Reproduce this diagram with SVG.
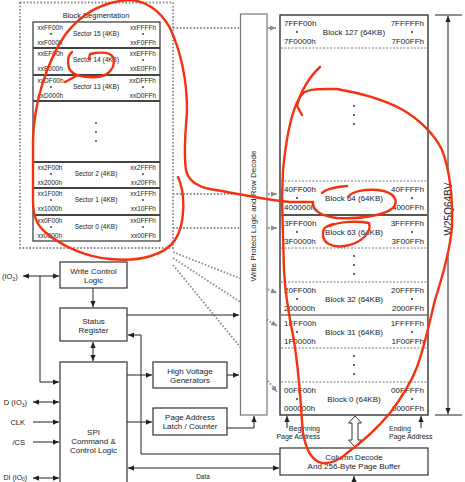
<svg xmlns="http://www.w3.org/2000/svg" width="465" height="482" viewBox="0 0 465 482">
<defs>
<style>
text{font-family:"Liberation Sans",Arial,sans-serif;fill:#222}
.s{font-size:6.5px}
.b{font-size:8px}
.l{font-size:7.5px}
.m{text-anchor:middle}
.e{text-anchor:end}
.box{fill:#fff;stroke:#333;stroke-width:1.2}
.ln{fill:none;stroke:#222;stroke-width:1}
.dt{fill:none;stroke:#8c8c8c;stroke-width:1.8;stroke-dasharray:1.6 1.8}
.dash{stroke:#555;stroke-width:0.8;stroke-dasharray:2 1.5}
.dv{stroke:#444;stroke-width:2}
.red{fill:none;stroke:#f5320f;stroke-width:2.4;stroke-linecap:round;stroke-linejoin:round}
</style>
<marker id="ah" viewBox="0 0 8 8" refX="8" refY="4" markerWidth="6" markerHeight="6" markerUnits="userSpaceOnUse" orient="auto-start-reverse"><path d="M0,0.5 L8,4 L0,7.5z" fill="#222"/></marker>
<marker id="ag" viewBox="0 0 8 8" refX="8" refY="4" markerWidth="6" markerHeight="6" markerUnits="userSpaceOnUse" orient="auto"><path d="M0,0.5 L8,4 L0,7.5z" fill="#8c8c8c"/></marker>
</defs>
<rect width="465" height="482" fill="#fff"/>

<g id="connectors">
<g id="dotted">
<path class="dt" d="M173,28 H276" marker-end="url(#ag)"/>
<path class="dt" d="M173,194 H277" marker-end="url(#ag)"/>
<path class="dt" d="M173,228 H277" marker-end="url(#ag)"/>
<path class="dt" d="M173,252 L277,293" marker-end="url(#ag)"/>
<path class="dt" d="M173,258 L277,326" marker-end="url(#ag)"/>
<path class="dt" d="M173,265 L277,392" marker-end="url(#ag)"/>
</g>
<g id="solid">
<path class="ln" d="M23,276 H59" marker-start="url(#ah)" marker-end="url(#ah)"/>
<path class="ln" d="M40,276 V382 H59" marker-end="url(#ah)"/>
<path class="ln" d="M33,402 H59" marker-start="url(#ah)" marker-end="url(#ah)"/>
<path class="ln" d="M33,422 H59" marker-end="url(#ah)"/>
<path class="ln" d="M33,442 H59" marker-end="url(#ah)"/>
<path class="ln" d="M33,478 H59" marker-start="url(#ah)" marker-end="url(#ah)"/>
<path class="ln" d="M93,288 V307" marker-end="url(#ah)"/>
<path class="ln" d="M93,342 V361" marker-start="url(#ah)" marker-end="url(#ah)"/>
<path class="ln" d="M127,315 H239" marker-end="url(#ah)"/>
<path class="ln" d="M280,454 H141 V335 H128" marker-end="url(#ah)"/>
<path class="ln" d="M127,375 H152" marker-end="url(#ah)"/>
<path class="ln" d="M127,422 H152" marker-end="url(#ah)"/>
<path class="ln" d="M227,375 H239" marker-end="url(#ah)"/>
<path class="ln" d="M227,428 H254 V416" marker-end="url(#ah)"/>
<path class="ln" d="M128,468 H279" marker-start="url(#ah)" marker-end="url(#ah)"/>
<path class="ln" d="M354,482 V476" marker-end="url(#ah)"/>
<path class="ln" d="M287,428 V416" marker-end="url(#ah)"/>
<path class="ln" d="M421,428 V416" marker-end="url(#ah)"/>
<path class="ln" d="M435,15 H462 M435,415 H462"/>
<path class="ln" d="M448,170 V16" marker-end="url(#ah)"/>
<path class="ln" d="M448,255 V414" marker-end="url(#ah)"/>
<path d="M355,416 L361.5,423 H358 V440 H361.5 L355,447 L348.5,440 H352 V423 H348.5 Z" fill="#fff" stroke="#333" stroke-width="1"/>
</g>
</g>

<g id="block-segmentation">
<rect x="20" y="2.5" width="153" height="245.5" fill="none" class="dt"/>
<text class="l m" x="96" y="17.5">Block Segmentation</text>
<rect x="33" y="22" width="127" height="219" fill="#fff" stroke="#333" stroke-width="1.2"/>
<path class="dv" d="M33,48 H160 M33,75 H160 M33,101 H160 M33,162 H160 M33,188 H160 M33,215 H160"/>
<g fill="#333"><circle cx="96" cy="123" r="0.9"/><circle cx="96" cy="132" r="0.9"/><circle cx="96" cy="141" r="0.9"/></g>
</g>
<g id="sector-15" class="s">
<text x="37.5" y="29.5">xxFF00h</text><text x="37.5" y="45.3">xxF000h</text>
<text class="e" x="156" y="29.5">xxFFFFh</text><text class="e" x="156" y="45.3">xxF0FFh</text>
<text class="m" x="96" y="36.3">Sector 15 (4KB)</text>
<circle cx="51" cy="34" r="0.9" fill="#333"/><circle cx="143" cy="34" r="0.9" fill="#333"/>
</g>
<g id="sector-14" class="s">
<text x="37.5" y="55.5">xxEF00h</text><text x="37.5" y="71.3">xxE000h</text>
<text class="e" x="156" y="55.5">xxEFFFh</text><text class="e" x="156" y="71.3">xxE0FFh</text>
<text class="m" x="96" y="62.3">Sector 14 (4KB)</text>
<circle cx="51" cy="60" r="0.9" fill="#333"/><circle cx="143" cy="60" r="0.9" fill="#333"/>
</g>
<g id="sector-13" class="s">
<text x="37.5" y="82.5">xxDF00h</text><text x="37.5" y="98.3">xxD000h</text>
<text class="e" x="156" y="82.5">xxDFFFh</text><text class="e" x="156" y="98.3">xxD0FFh</text>
<text class="m" x="96" y="89.3">Sector 13 (4KB)</text>
<circle cx="51" cy="87" r="0.9" fill="#333"/><circle cx="143" cy="87" r="0.9" fill="#333"/>
</g>
<g id="sector-2" class="s">
<text x="37.5" y="169.5">xx2F00h</text><text x="37.5" y="185.3">xx2000h</text>
<text class="e" x="156" y="169.5">xx2FFFh</text><text class="e" x="156" y="185.3">xx20FFh</text>
<text class="m" x="96" y="176.3">Sector 2 (4KB)</text>
<circle cx="51" cy="174" r="0.9" fill="#333"/><circle cx="143" cy="174" r="0.9" fill="#333"/>
</g>
<g id="sector-1" class="s">
<text x="37.5" y="195.5">xx1F00h</text><text x="37.5" y="211.3">xx1000h</text>
<text class="e" x="156" y="195.5">xx1FFFh</text><text class="e" x="156" y="211.3">xx10FFh</text>
<text class="m" x="96" y="202.3">Sector 1 (4KB)</text>
<circle cx="51" cy="200" r="0.9" fill="#333"/><circle cx="143" cy="200" r="0.9" fill="#333"/>
</g>
<g id="sector-0" class="s">
<text x="37.5" y="222.5">xx0F00h</text><text x="37.5" y="238.3">xx0000h</text>
<text class="e" x="156" y="222.5">xx0FFFh</text><text class="e" x="156" y="238.3">xx00FFh</text>
<text class="m" x="96" y="229.3">Sector 0 (4KB)</text>
<circle cx="51" cy="227" r="0.9" fill="#333"/><circle cx="143" cy="227" r="0.9" fill="#333"/>
</g>

<g id="write-protect">
<rect x="240.5" y="14" width="26.5" height="401" fill="#fff" stroke="#777" stroke-width="1.2"/>
<text class="b m" transform="translate(256,216) rotate(-90)">Write Protect Logic and Row Decode</text>
</g>

<g id="memory-array">
<rect x="280" y="15" width="148" height="400" fill="#fff" stroke="#333" stroke-width="1.4"/>
<path class="dash" d="M281,48 H427 M281,181 H427 M281,248 H427 M281,282 H427 M281,348 H427 M281,382 H427"/>
<path d="M281,215 H427" stroke="#555" stroke-width="2"/>
<path d="M281,315 H427" stroke="#333" stroke-width="1.2"/>
<g fill="#333"><circle cx="354" cy="106" r="1"/><circle cx="354" cy="115" r="1"/><circle cx="354" cy="124" r="1"/><circle cx="354" cy="256" r="1"/><circle cx="354" cy="265" r="1"/><circle cx="354" cy="274" r="1"/><circle cx="354" cy="356" r="1"/><circle cx="354" cy="365" r="1"/><circle cx="354" cy="374" r="1"/></g>
</g>
<g id="block-127" class="b">
<text x="284" y="26">7FFF00h</text><text x="284" y="44.4">7F0000h</text>
<text class="e" x="424" y="26">7FFFFFh</text><text class="e" x="424" y="44.4">7F00FFh</text>
<text class="m" x="354" y="34.9">Block 127 (64KB)</text>
<circle cx="297" cy="32" r="1" fill="#333"/><circle cx="412" cy="32" r="1" fill="#333"/>
</g>
<g id="block-64" class="b">
<text x="284" y="192">40FF00h</text><text x="284" y="210.4">400000h</text>
<text class="e" x="424" y="192">40FFFFh</text><text class="e" x="424" y="210.4">4000FFh</text>
<text class="m" x="354" y="200.9">Block 64 (64KB)</text>
<circle cx="297" cy="198" r="1" fill="#333"/><circle cx="412" cy="198" r="1" fill="#333"/>
</g>
<g id="block-63" class="b">
<text x="284" y="226">3FFF00h</text><text x="284" y="244.4">3F0000h</text>
<text class="e" x="424" y="226">3FFFFFh</text><text class="e" x="424" y="244.4">3F00FFh</text>
<text class="m" x="354" y="234.9">Block 63 (64KB)</text>
<circle cx="297" cy="232" r="1" fill="#333"/><circle cx="412" cy="232" r="1" fill="#333"/>
</g>
<g id="block-32" class="b">
<text x="284" y="293">20FF00h</text><text x="284" y="311.4">200000h</text>
<text class="e" x="424" y="293">20FFFFh</text><text class="e" x="424" y="311.4">2000FFh</text>
<text class="m" x="354" y="301.9">Block 32 (64KB)</text>
<circle cx="297" cy="299" r="1" fill="#333"/><circle cx="412" cy="299" r="1" fill="#333"/>
</g>
<g id="block-31" class="b">
<text x="284" y="326">1FFF00h</text><text x="284" y="344.4">1F0000h</text>
<text class="e" x="424" y="326">1FFFFFh</text><text class="e" x="424" y="344.4">1F00FFh</text>
<text class="m" x="354" y="334.9">Block 31 (64KB)</text>
<circle cx="297" cy="332" r="1" fill="#333"/><circle cx="412" cy="332" r="1" fill="#333"/>
</g>
<g id="block-0" class="b">
<text x="284" y="393">00FF00h</text><text x="284" y="411.4">000000h</text>
<text class="e" x="424" y="393">00FFFFh</text><text class="e" x="424" y="411.4">0000FFh</text>
<text class="m" x="354" y="401.9">Block 0 (64KB)</text>
<circle cx="297" cy="399" r="1" fill="#333"/><circle cx="412" cy="399" r="1" fill="#333"/>
</g>

<g id="chip-label"><text transform="translate(451.5,209) rotate(-90)" class="m" font-size="10">W25Q64BV</text></g>
<g id="page-address-labels" font-size="7">
<text class="e" x="320" y="430.5">Beginning</text><text class="e" x="320" y="438.8">Page Address</text>
<text x="389" y="430.5">Ending</text><text x="389" y="438.8">Page Address</text>
</g>

<g id="column-decode">
<rect class="box" x="280" y="448" width="148" height="27"/>
<text class="b m" x="354" y="460">Column Decode</text>
<text class="b m" x="354" y="469">And 256-Byte Page Buffer</text>
</g>
<g id="write-control">
<rect class="box" x="60" y="262" width="67" height="26"/>
<text class="b m" x="93.5" y="274">Write Control</text>
<text class="b m" x="93.5" y="283">Logic</text>
</g>
<g id="status-register">
<rect class="box" x="60" y="308" width="67" height="33"/>
<text class="b m" x="93.5" y="324">Status</text>
<text class="b m" x="93.5" y="333">Register</text>
</g>
<g id="spi-logic">
<rect class="box" x="60" y="362" width="67" height="130"/>
<text class="b m" x="93.5" y="435">SPI</text>
<text class="b m" x="93.5" y="444">Command &amp;</text>
<text class="b m" x="93.5" y="453">Control Logic</text>
</g>
<g id="high-voltage">
<rect class="box" x="153" y="362" width="74" height="26"/>
<text class="b m" x="190" y="374">High Voltage</text>
<text class="b m" x="190" y="383">Generators</text>
</g>
<g id="page-latch">
<rect class="box" x="153" y="408" width="74" height="27"/>
<text class="b m" x="190" y="420">Page Address</text>
<text class="b m" x="190" y="429">Latch / Counter</text>
</g>
<g id="pin-labels" class="l">
<text x="2" y="279">(IO<tspan font-size="5" dy="1.5">2</tspan><tspan dy="-1.5">)</tspan></text>
<text class="e" x="27" y="405">D (IO<tspan font-size="5" dy="1.5">3</tspan><tspan dy="-1.5">)</tspan></text>
<text class="e" x="25" y="425">CLK</text>
<text class="e" x="25" y="445">/CS</text>
<text class="e" x="27" y="479.5" font-size="7">DI (IO<tspan font-size="4.5" dy="1">0</tspan><tspan dy="-1">)</tspan></text>
<text font-size="6.5" class="m" x="203" y="478.5">Data</text>
</g>

<g id="annotations">
<path class="red" d="M178,177 C186,195 185,225 175,240 C165,255 140,262 110,259 C85,257 60,245 45,232 C36,224 33,215 33,200 L33,140 C34,105 45,65 65,35 C80,15 100,2 128,0 C145,0 160,10 170,28 C180,50 187,80 187,110 C186,130 183,150 186,170 C188,180 195,186 210,189 C240,194 265,200 290,202 L313,202 C312,209 319,216 337,218 C355,219 382,217 393,208 C399,201 395,192 378,190 C365,189 352,191 348,197"/>
<path class="red" d="M322,193 C326,189 335,187 347,186"/>
<path class="red" d="M330,226 C340,221 358,221 369,223 C372,232 362,243 345,246 C332,248 322,243 323,233 C323,228 326,226 334,224"/>
<path class="red" d="M89,59 L90,54 C100,52 110,52 113,57 C116,66 110,76 97,77 C85,78 72,76 69,68 C67,60 68,55 72,52"/>
<path class="red" d="M65,82 L78,75"/>
<path class="red" d="M320,67 C310,76 300,92 297,106 L302,115"/>
<path class="red" d="M283,170 C286,140 292,105 303,93 C310,88 325,89 337,89 C360,93 385,100 403,110 C420,120 435,135 442,150 C450,170 453,200 452,227 C450,250 443,275 435,300 C430,320 425,345 417,367 C410,385 400,400 390,413 C380,425 365,440 347,453 C340,460 330,464 322,463 C312,461 306,450 303,433 C301,410 300,390 299,383 C297,360 294,340 292,330 C288,310 285,290 284,270 L282,200 L283,170"/>
</g>
</svg>
